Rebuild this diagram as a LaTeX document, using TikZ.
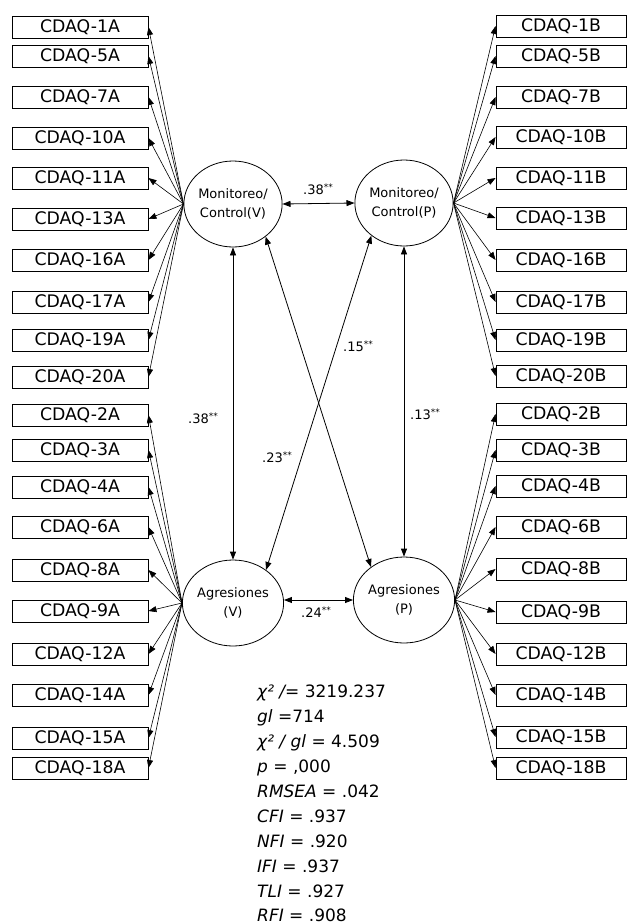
\documentclass[tikz,border=0pt]{standalone}
\usepackage{fontspec}
\setmainfont{DejaVu Sans}
\usetikzlibrary{arrows.meta,shapes.geometric}
\newcommand{\sigstars}{\raisebox{0.32em}{\fontsize{9}{9}\selectfont **}}
\begin{document}
\begin{tikzpicture}[x=1pt,y=-1pt,
  ind/.style={draw,line width=0.9pt,minimum width=136pt,minimum height=22pt,inner sep=0pt,font=\fontsize{17.3}{17}\selectfont},
  indr/.style={ind,minimum width=130pt},
  lat/.style={draw,ellipse,line width=0.8pt,minimum width=98pt,minimum height=86pt,inner sep=0pt,align=center,font=\fontsize{13}{19}\selectfont},
  ld/.style={-{Triangle[length=8pt,width=6pt]},line width=0.6pt},
  cov/.style={{Triangle[length=8pt,width=6pt]}-{Triangle[length=8pt,width=6pt]},line width=0.8pt},
  lbl/.style={font=\fontsize{13}{13}\selectfont,inner sep=0pt},
  fitline/.style={anchor=base west,inner sep=0pt,font=\fontsize{17}{17}\selectfont}]
\useasboundingbox (0,0) rectangle (627,924);

% latent factors
\node[lat] (MV) at (233,204) {Monitoreo/\\Control(V)};
\node[lat] (MP) at (404,203) {Monitoreo/\\Control(P)};
\node[lat] (AV) at (233,603) {Agresiones\\(V)};
\node[lat] (AP) at (404,600) {Agresiones\\(P)};

% left indicators
\foreach \n/\y in {1/27,5/56,7/97,10/138,11/178,13/219,16/260,17/302,19/340,20/377}{
  \node[ind] (A\n) at (80,\y) {CDAQ-\n A};
  \draw[ld] (MV.west) -- (A\n.east);
}
\foreach \n/\y in {2/415,3/450,4/487,6/527,8/570,9/611,12/654,14/695,15/738,18/768}{
  \node[ind] (A\n) at (80,\y) {CDAQ-\n A};
  \draw[ld] (AV.west) -- (A\n.east);
}
% right indicators
\foreach \n/\y in {1/26,5/56,7/97,10/137,11/178,13/218,16/260,17/302,19/340,20/376}{
  \node[indr] (B\n) at (561,\y) {CDAQ-\n B};
  \draw[ld] (MP.east) -- (B\n.west);
}
\foreach \n/\y in {2/414,3/450,4/486,6/527,8/569,9/612,12/654,14/695,15/737,18/768}{
  \node[indr] (B\n) at (561,\y) {CDAQ-\n B};
  \draw[ld] (AP.east) -- (B\n.west);
}

% covariances
\draw[cov] (MV.east) -- (MP.west);
\draw[cov] (AV.east |- AP.west) -- (AP.west);
\draw[cov] (MV.south) -- (AV.north);
\draw[cov] (MP.south) -- (AP.north);
\draw[cov] (MV.-45) -- (AP.135);
\draw[cov] (MP.-135) -- (AV.45);

% covariance labels
\node[lbl] (c1) at (318,189) {.38\sigstars};
\node[lbl] (c2) at (316,612) {.24\sigstars};
\node[lbl] (c3) at (203,418) {.38\sigstars};
\node[lbl] (c4) at (425,414) {.13\sigstars};
\node[lbl] (c5) at (358,346) {.15\sigstars};
\node[lbl] (c6) at (277,457) {.23\sigstars};

% fit statistics
\node[fitline] (s1) at (257,697) {\itshape χ² /\upshape= 3219.237};
\node[fitline] (s2) at (257,722) {\itshape gl \upshape=714};
\node[fitline] (s3) at (257,747) {\itshape χ² / gl \upshape= 4.509};
\node[fitline] (s4) at (257,772) {\itshape p \upshape= ,000};
\node[fitline] (s5) at (257,797) {\itshape RMSEA \upshape= .042};
\node[fitline] (s6) at (257,822) {\itshape CFI \upshape= .937};
\node[fitline] (s7) at (257,847) {\itshape NFI \upshape= .920};
\node[fitline] (s8) at (257,872) {\itshape IFI \upshape= .937};
\node[fitline] (s9) at (257,897) {\itshape TLI \upshape= .927};
\node[fitline] (s10) at (257,921) {\itshape RFI \upshape= .908};
\end{tikzpicture}
\end{document}
